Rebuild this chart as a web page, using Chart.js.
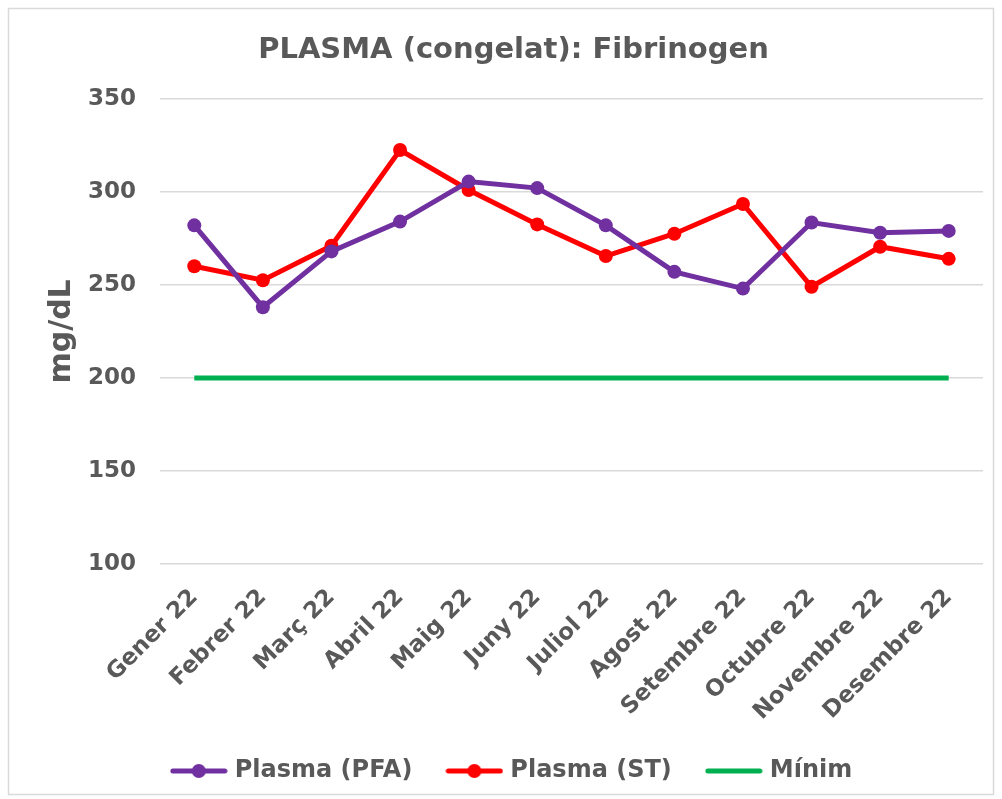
<!DOCTYPE html>
<html>
<head>
<meta charset="utf-8">
<script src="https://cdn.jsdelivr.net/npm/chart.js@4"></script>
<style>
  html, body { margin: 0; padding: 0; background: #fff; }
  #wrap { width: 1002px; height: 799px; position: relative; }
</style>
</head>
<body>
<div id="wrap"><canvas id="myChart" width="1002" height="799"></canvas></div>
<script>
// Chart data
var months = ['Gener 22', 'Febrer 22', 'Març 22', 'Abril 22', 'Maig 22', 'Juny 22',
              'Juliol 22', 'Agost 22', 'Setembre 22', 'Octubre 22', 'Novembre 22', 'Desembre 22'];
var plasmaPFA = [282, 238, 268, 284, 305.5, 302, 282, 257, 248, 283.5, 278, 279];
var plasmaST = [260, 252.5, 271, 322.5, 301, 282.5, 265.5, 277.5, 293.5, 249, 270.5, 264];
var minim = [200, 200, 200, 200, 200, 200, 200, 200, 200, 200, 200, 200];
var yTicks = [100, 150, 200, 250, 300, 350];

var textColor = '#595959';
var fontFamily = '"DejaVu Sans", Verdana, sans-serif';

// Small legend icon: a line with an optional dot in the middle
function legendIcon(color, withDot) {
    var c = document.createElement('canvas');
    c.width = 58;
    c.height = 16;
    var g = c.getContext('2d');
    g.strokeStyle = color;
    g.lineWidth = 5;
    g.lineCap = 'round';
    g.beginPath();
    g.moveTo(3, 8);
    g.lineTo(55, 8);
    g.stroke();
    if (withDot) {
        g.fillStyle = color;
        g.beginPath();
        g.arc(29, 8, 7, 0, Math.PI * 2);
        g.fill();
    }
    return c;
}
var icons = [legendIcon('#7030a0', true), legendIcon('#ff0000', true), legendIcon('#00b050', false)];

// Outer light-gray frame
var framePlugin = {
    id: 'frame',
    beforeDraw: function(chart) {
        var ctx = chart.ctx;
        ctx.save();
        ctx.fillStyle = '#fff';
        ctx.fillRect(0, 0, chart.width, chart.height);
        ctx.strokeStyle = '#d9d9d9';
        ctx.lineWidth = 1.5;
        ctx.strokeRect(8.5, 8.5, 985, 786);
        ctx.restore();
    }
};

var ctx = document.getElementById('myChart').getContext('2d');
var myChart = new Chart(ctx, {
    type: 'line',
    data: {
        labels: months,
        datasets: [{
            label: 'Plasma (PFA)',
            data: plasmaPFA,
            borderColor: '#7030a0',
            backgroundColor: '#7030a0',
            borderWidth: 5,
            pointRadius: 7,
            pointBorderWidth: 0,
            tension: 0
        },
        {
            label: 'Plasma (ST)',
            data: plasmaST,
            borderColor: '#ff0000',
            backgroundColor: '#ff0000',
            borderWidth: 5,
            pointRadius: 7,
            pointBorderWidth: 0,
            tension: 0
        },
        {
            label: 'Mínim',
            data: minim,
            borderColor: '#00b050',
            backgroundColor: '#00b050',
            borderWidth: 5,
            pointRadius: 0,
            tension: 0
        }]
    },
    options: {
        responsive: false,
        animation: false,
        events: [],
        layout: { padding: { left: 44, right: 19, top: 8, bottom: 6 } },
        plugins: {
            title: {
                display: true,
                text: 'PLASMA (congelat): Fibrinogen',
                color: textColor,
                font: { family: fontFamily, size: 29, weight: 'bold' },
                padding: { top: 25, bottom: 31 }
            },
            legend: {
                position: 'bottom',
                labels: {
                    color: textColor,
                    font: { family: fontFamily, size: 24, weight: 'bold' },
                    usePointStyle: true,
                    pointStyleWidth: 48,
                    padding: 38,
                    generateLabels: function(chart) {
                        var items = Chart.defaults.plugins.legend.labels.generateLabels(chart);
                        items.forEach(function(item, i) {
                            item.pointStyle = icons[i];
                        });
                        return items;
                    }
                }
            },
            tooltip: { enabled: false }
        },
        scales: {
            x: {
                offset: true,
                grid: { display: false },
                border: { display: false },
                ticks: {
                    color: textColor,
                    font: { family: fontFamily, size: 23, weight: 'bold' },
                    minRotation: 45,
                    maxRotation: 45,
                    padding: 12
                },
                afterFit: function(scale) { scale.height = 157; }
            },
            y: {
                min: 100,
                max: 350,
                afterBuildTicks: function(scale) {
                    scale.ticks = yTicks.map(function(v) { return { value: v }; });
                },
                grid: { color: '#d9d9d9', lineWidth: 1.5, drawTicks: false },
                border: { display: false },
                ticks: {
                    color: textColor,
                    font: { family: fontFamily, size: 23, weight: 'bold' },
                    padding: 24
                },
                title: {
                    display: true,
                    text: 'mg/dL',
                    color: textColor,
                    font: { family: fontFamily, size: 30, weight: 'bold' },
                    padding: { top: 0, bottom: 0 }
                },
                afterFit: function(scale) { scale.width = 116; }
            }
        }
    },
    plugins: [framePlugin]
});
</script>
</body>
</html>
